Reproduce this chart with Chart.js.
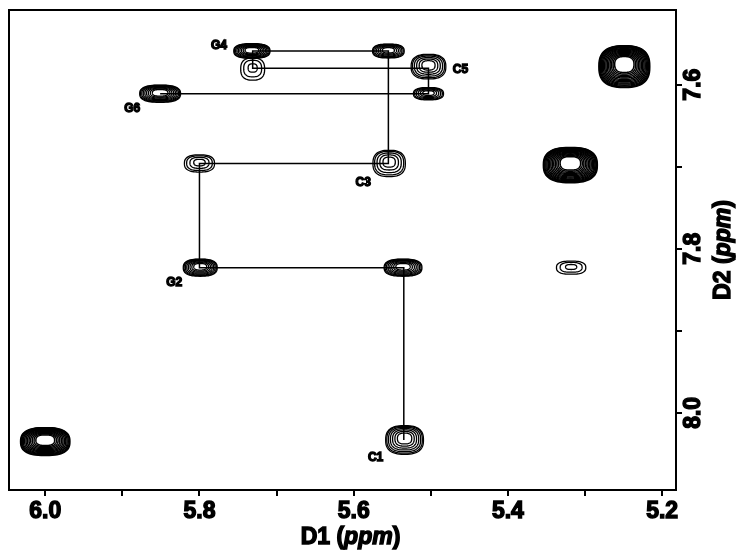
<!DOCTYPE html>
<html>
<head>
<meta charset="utf-8">
<script src="https://cdn.jsdelivr.net/npm/chart.js@4.4.1/dist/chart.umd.min.js"></script>
<style>
  html, body { margin: 0; padding: 0; background: #fff; }
  canvas { display: block; }
</style>
</head>
<body>
<canvas id="spectrum" width="737" height="550"></canvas>
<script>
// Cross peaks in the H1'/H6-H8 region (chemical shifts in ppm)
const peakD1 = [5.732, 5.555, 5.731, 5.503, 5.503, 5.851, 5.554, 5.800, 5.799, 5.536, 5.534, 5.318, 5.319, 5.249, 6.000];
const peakD2 = [7.559, 7.559, 7.581, 7.578, 7.611, 7.611, 7.696, 7.696, 7.823, 7.823, 8.033, 7.823, 7.698, 7.578, 8.035];
// Peak extent along each dimension (ppm) and number of contour levels above threshold
const peakWidthD1 = [0.047, 0.041, 0.031, 0.045, 0.039, 0.053, 0.042, 0.039, 0.044, 0.049, 0.049, 0.038, 0.070, 0.066, 0.064];
const peakWidthD2 = [0.018, 0.017, 0.027, 0.030, 0.015, 0.021, 0.032, 0.021, 0.021, 0.021, 0.035, 0.016, 0.043, 0.051, 0.034];
const peakLevels  = [9, 7, 3, 6, 6, 9, 5, 4, 8, 8, 7, 3, 14, 14, 12];
// Residue assignments (blank = unassigned)
const peakNames = ['G4', '', '', 'C5', '', 'G6', 'C3', '', 'G2', '', 'C1', '', '', '', ''];

// Sequential H1'-H6/H8 walk from C1 to G6
const walkD1 = [5.535, 5.535, 5.800, 5.800, 5.555, 5.555, 5.731, 5.731, 5.503, 5.503, 5.851];
const walkD2 = [8.033, 7.823, 7.823, 7.696, 7.696, 7.559, 7.559, 7.580, 7.580, 7.611, 7.611];

// Axis ranges (ppm) and label spacing
const d1Range = [5.182, 6.047];
const d2Range = [7.509, 8.094];
const tickStep = 0.1;
const labelStep = 0.2;

// Pixel offsets of assignment labels from their peaks
const labelOffsets = {
  G4: [-33, -5], C5: [32, 3], G6: [-28, 15], C3: [-26, 19], G2: [-26, 15], C1: [-29, 18]
};

const BOLD = 'bold 23px "Liberation Sans", Arial, sans-serif';

function stepLabel(v) {
  const r = Math.round(v / tickStep);
  const every = Math.round(labelStep / tickStep);
  return r % every === 0 ? (r * tickStep).toFixed(1) : '';
}

const contourPlugin = {
  id: 'contours',
  afterDatasetsDraw(chart) {
    const { ctx, chartArea, scales: { x, y } } = chart;
    ctx.save();
    ctx.beginPath();
    ctx.rect(chartArea.left, chartArea.top, chartArea.width, chartArea.height);
    ctx.clip();
    ctx.strokeStyle = '#000';
    const p = 2.6; // squareness of the contour outline
    peakD1.forEach((d1, i) => {
      const d2 = peakD2[i];
      const cx = x.getPixelForValue(d1);
      const cy = y.getPixelForValue(d2);
      const a = Math.abs(x.getPixelForValue(d1 + peakWidthD1[i] / 2) - cx);
      const b = Math.abs(y.getPixelForValue(d2 + peakWidthD2[i] / 2) - cy);
      const n = peakLevels[i];
      ctx.lineWidth = n > 10 ? 1.5 : 1.3;
      for (let k = 0; k < n; k++) {
        const t = n > 1 ? k / (n - 1) : 0;
        const s = 1 - 0.62 * Math.pow(t, 1.3);
        const oy = -t * b * 0.1;
        ctx.beginPath();
        for (let j = 0; j <= 64; j++) {
          const th = (j / 64) * Math.PI * 2;
          const c = Math.cos(th), sn = Math.sin(th);
          const px = cx + a * s * Math.sign(c) * Math.pow(Math.abs(c), 2 / p);
          const py = cy + oy + b * s * Math.sign(sn) * Math.pow(Math.abs(sn), 2 / p);
          if (j === 0) ctx.moveTo(px, py); else ctx.lineTo(px, py);
        }
        ctx.closePath();
        ctx.stroke();
      }
      const name = peakNames[i];
      if (name) {
        const off = labelOffsets[name] || [0, 0];
        ctx.font = 'bold 12px "Liberation Sans", Arial, sans-serif';
        ctx.textAlign = 'center';
        ctx.textBaseline = 'middle';
        ctx.fillStyle = '#000';
        ctx.lineWidth = 1.3;
        ctx.fillText(name, cx + off[0], cy + off[1]);
        ctx.strokeText(name, cx + off[0], cy + off[1]);
      }
    });
    ctx.restore();
  }
};

function drawMixedTitle(ctx, parts, cx, cy, rotate) {
  ctx.save();
  ctx.translate(cx, cy);
  if (rotate) ctx.rotate(-Math.PI / 2);
  ctx.textBaseline = 'middle';
  ctx.textAlign = 'left';
  let total = 0;
  parts.forEach(pt => { ctx.font = pt.font; total += ctx.measureText(pt.text).width; });
  let xPos = -total / 2;
  ctx.fillStyle = '#000';
  ctx.strokeStyle = '#000';
  ctx.lineWidth = 1.4;
  parts.forEach(pt => {
    ctx.font = pt.font;
    ctx.fillText(pt.text, xPos, 0);
    ctx.strokeText(pt.text, xPos, 0);
    xPos += ctx.measureText(pt.text).width;
  });
  ctx.restore();
}

const framePlugin = {
  id: 'frame',
  afterDraw(chart) {
    const { ctx, chartArea: ca } = chart;
    ctx.save();
    ctx.strokeStyle = '#000';
    ctx.lineWidth = 2;
    ctx.strokeRect(ca.left, ca.top, ca.right - ca.left, ca.bottom - ca.top);
    ctx.restore();
    const ital = 'italic bold 23px "Liberation Sans", Arial, sans-serif';
    drawMixedTitle(ctx, [
      { text: 'D1 (', font: BOLD }, { text: 'ppm', font: ital }, { text: ')', font: BOLD }
    ], (ca.left + ca.right) / 2 + 8, ca.bottom + 48, false);
    drawMixedTitle(ctx, [
      { text: 'D2 (', font: BOLD }, { text: 'ppm', font: ital }, { text: ')', font: BOLD }
    ], ca.right + 48, (ca.top + ca.bottom) / 2, true);
  }
};

const axisGrid = {
  display: true,
  drawOnChartArea: false,
  drawTicks: true,
  tickLength: 6,
  color: '#000',
  lineWidth: 2
};

new Chart(document.getElementById('spectrum'), {
  type: 'line',
  data: {
    datasets: [{
      data: walkD1.map((v, i) => ({ x: v, y: walkD2[i] })),
      borderColor: '#000',
      borderWidth: 1.5,
      pointRadius: 0,
      fill: false,
      tension: 0
    }]
  },
  options: {
    responsive: false,
    animation: false,
    layout: { padding: { left: 9, top: 10, right: 0, bottom: 0 } },
    plugins: { legend: { display: false }, tooltip: { enabled: false } },
    scales: {
      x: {
        type: 'linear',
        reverse: true,
        min: d1Range[0],
        max: d1Range[1],
        grid: axisGrid,
        border: { display: false },
        afterFit(s) { s.height = 60; },
        ticks: {
          stepSize: tickStep,
          includeBounds: false,
          autoSkip: false,
          maxRotation: 0,
          padding: 2,
          color: '#000',
          font: { family: '"Liberation Sans", Arial, sans-serif', size: 23, weight: 'bold' },
          textStrokeColor: '#000',
          textStrokeWidth: 1.4,
          callback: stepLabel
        }
      },
      y: {
        type: 'linear',
        position: 'right',
        reverse: true,
        min: d2Range[0],
        max: d2Range[1],
        grid: axisGrid,
        border: { display: false },
        afterFit(s) { s.width = 61; },
        ticks: {
          stepSize: tickStep,
          includeBounds: false,
          autoSkip: false,
          minRotation: 90,
          maxRotation: 90,
          crossAlign: 'center',
          padding: -4,
          color: '#000',
          font: { family: '"Liberation Sans", Arial, sans-serif', size: 23, weight: 'bold' },
          textStrokeColor: '#000',
          textStrokeWidth: 1.4,
          callback: stepLabel
        }
      }
    }
  },
  plugins: [contourPlugin, framePlugin]
});
</script>
</body>
</html>
